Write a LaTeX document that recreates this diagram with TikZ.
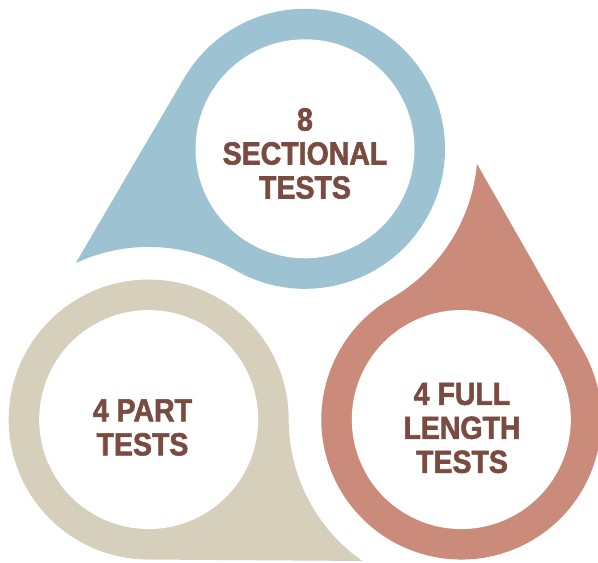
\documentclass[tikz,border=0pt]{standalone}
\usepackage{fontspec}
\newfontfamily\lblfont[FakeStretch=0.89,FakeBold=1.8]{Liberation Sans Bold}
\definecolor{dropblue}{HTML}{9DC2D1}
\definecolor{dropbeige}{HTML}{D6CFBC}
\definecolor{dropred}{HTML}{CB8B7B}
\definecolor{txtbrown}{HTML}{7A4C41}
\newcommand\mydrop[1]{%
  \fill[#1] (-229.28,66.21) -- (-120.79,251.27)
    arc[start angle=149.63,end angle=-120,radius=140pt]
    arc[start angle=60,end angle=115,radius=172.64pt] -- cycle;
  \fill[white] (0,180.5) circle[radius=109.5pt];}
\begin{document}
\begin{tikzpicture}[x=1pt,y=1pt,
  lbl/.style={inner sep=0pt,align=center,text=txtbrown,
    font=\lblfont\fontsize{32}{34}\selectfont}]
\useasboundingbox (0,0) rectangle (598,563);
\clip (0,0) rectangle (598,563);
\begin{scope}[shift={(305,233.7)},rotate=0]
  \mydrop{dropblue}
\end{scope}
\begin{scope}[shift={(305,233.7)},rotate=120]
  \mydrop{dropbeige}
\end{scope}
\begin{scope}[shift={(305,233.7)},rotate=240]
  \mydrop{dropred}
\end{scope}
\node[lbl] (sect) at (305,409.5) {8\\SECTIONAL\\TESTS};
\node[lbl] (part) at (142.5,135.5) {4 PART\\TESTS};
\node[lbl] (full) at (462,135) {4 FULL\\LENGTH\\TESTS};
\end{tikzpicture}
\end{document}
